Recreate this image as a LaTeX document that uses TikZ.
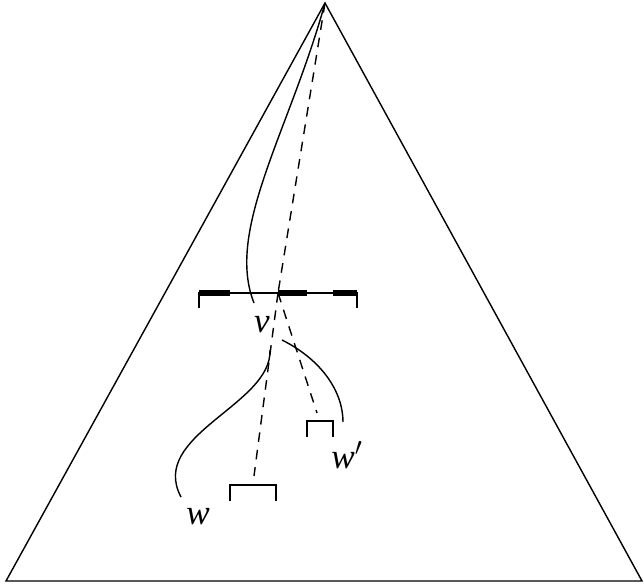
\documentclass[tikz,border=0pt]{standalone}
\usepackage{fontspec}
\setmainfont{Liberation Serif}
\usetikzlibrary{positioning}

\begin{document}
\begin{tikzpicture}[
    x=0.02cm, y=-0.02cm,
    thin line/.style={line width=0.8pt},
    thick seg/.style={line width=3.4pt},
    path line/.style={line width=0.8pt, dash pattern=on 5.5pt off 4.5pt},
    lbl/.style={font=\fontsize{20}{22}\selectfont\itshape, inner sep=0pt}
]
\useasboundingbox (0,0) rectangle (644,584);

% the big triangle
\coordinate (top) at (325,3);
\coordinate (bl) at (6,581);
\coordinate (br) at (642,581);
\draw[thin line, line join=miter] (top) -- (bl) -- (br) -- cycle;

% the interval with its pieces
\coordinate (il) at (199,293);
\coordinate (ir) at (357,293);
\coordinate (vp) at (278,293);
\draw[thin line] (199,308) -- (il) -- (ir) -- (357,308);
\draw[thick seg] (il) -- (230,293);
\draw[thick seg] (vp) -- (307,293);
\draw[thick seg] (333,293) -- (ir);

% the two small intervals
\coordinate (wa) at (253,485);
\coordinate (wb) at (320,421);
\draw[thin line] (230,501) -- (230,485) -- (276,485) -- (276,501);
\draw[thin line] (307,437) -- (307,421) -- (333,421) -- (333,437);

% dashed paths
\draw[path line] (top) -- (vp);
\draw[path line] (vp) -- (254,476);
\draw[path line] (vp) -- (317,413);

% solid curves
\draw[thin line] (top) .. controls (290,130) and (225,230) .. (254,303);
\draw[thin line] (270,350) .. controls (272,405) and (148,435) .. (181,497);
\draw[thin line] (282,340) .. controls (322,360) and (343,392) .. (343,422);

% labels
\node[lbl] (v) at (262,325) {v};
\node[lbl] (w) at (198,517) {w};
\node[lbl] (w2) at (347,455) {w$'$};
\end{tikzpicture}
\end{document}
